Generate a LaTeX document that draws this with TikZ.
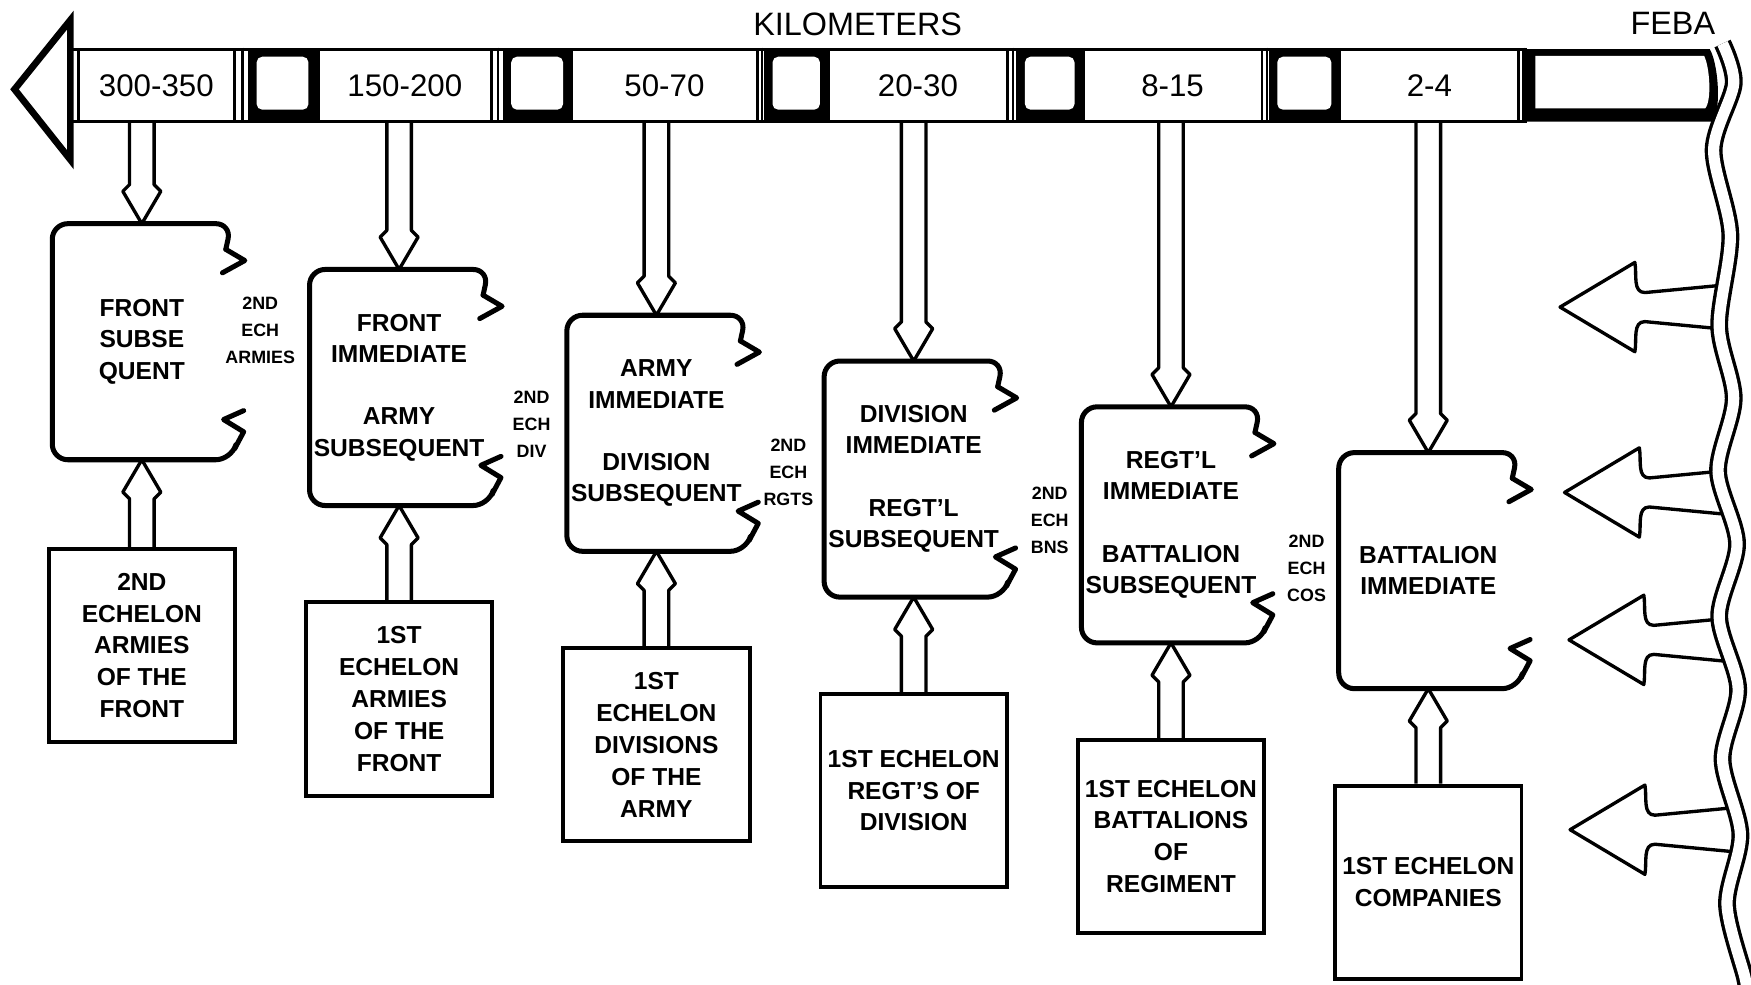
\documentclass[tikz,border=0pt]{standalone}
\usepackage{fontspec}
\setmainfont{Liberation Sans}
\usetikzlibrary{positioning,calc}

\tikzset{
  title/.style={inner sep=0pt, font=\fontsize{29}{31}\selectfont},
  barline/.style={line width=2.5pt},
  stripline/.style={line width=2pt},
  kmcell/.style={draw, fill=white, line width=2.5pt, minimum height=65pt, inner sep=0pt,
    font=\fontsize{28}{30}\selectfont},
  gapcell/.style={fill=black, minimum height=65pt, inner sep=0pt},
  topbox/.style={minimum width=160pt, minimum height=211pt, inner sep=0pt, align=center,
    font=\bfseries\fontsize{22}{28}\selectfont},
  basebox/.style={draw, line width=3.5pt, minimum width=167pt, minimum height=173pt,
    inner sep=0pt, align=center, font=\bfseries\fontsize{22}{28.5}\selectfont},
  echlabel/.style={inner sep=0pt, align=center, font=\bfseries\fontsize{16}{24}\selectfont},
  boxline/.style={line width=4.5pt, line join=round, line cap=round},
  hollowline/.style={line width=3pt, line join=round},
  febaline/.style={line width=3pt, double=white, double distance=10pt},
}

% double-walled arrow, from #1 to the tip #2
\newcommand{\hollowarrow}[2]{%
  \draw[hollowline] let \p1=#1, \p2=#2, \n1={ifthenelse(\y1>\y2,1,-1)} in
    (\x2-11pt,\y1) -- (\x2-11pt,{\y2+\n1*35pt}) -- (\x2-17pt,{\y2+\n1*29pt}) -- (\x2,\y2)
    -- (\x2+17pt,{\y2+\n1*29pt}) -- (\x2+11pt,{\y2+\n1*35pt}) -- (\x2+11pt,\y1);}

% rounded box, open between two torn edges on the right
\newcommand{\echbox}[1]{%
  \draw[boxline, rounded corners=14pt] ([shift={(-5,23)}]#1.north east) -- (#1.north east)
    -- (#1.north west) -- (#1.south west) -- (#1.south east) -- ([shift={(3,-10)}]#1.south east);
  \draw[boxline] ([shift={(-8,44)}]#1.north east) -- ([shift={(12,33)}]#1.north east)
    -- ([shift={(-5,23)}]#1.north east);
  \draw[boxline] ([shift={(3,-10)}]#1.south east) -- ([shift={(11,-25)}]#1.south east)
    -- ([shift={(-7,-36)}]#1.south east) -- ([shift={(11,-44)}]#1.south east);}

% big arrow out of the FEBA, tip at #1
\newcommand{\febarrow}[1]{%
  \draw[hollowline] let \p1=#1 in
    (\x1+160pt,\y1+21pt) -- (\x1+76pt,\y1+13pt) to[out=180,in=-80] (\x1+67pt,\y1+40pt)
    -- (\x1,\y1) -- (\x1+67pt,\y1-40pt) to[out=80,in=180] (\x1+76pt,\y1-13pt)
    -- (\x1+160pt,\y1-21pt);}

\begin{document}
\begin{tikzpicture}[x=1pt,y=-1pt]
  \useasboundingbox (0,0) rectangle (1568,882);

  % distance scale
  \node[title] (kmlabel)   at (768,22)  {KILOMETERS};
  \node[title] (febalabel) at (1498,21) {FEBA};
  \draw[barline] (63,44) rectangle (1366,109);
  \draw[line width=6pt, line join=miter, fill=white] (63,18) -- (13,80) -- (63,143) -- cycle;

  \node[kmcell, minimum width=140pt] (k1) at (140,76.5)  {300-350};
  \node[kmcell, minimum width=155pt] (k2) at (362.5,76.5) {150-200};
  \node[kmcell, minimum width=166pt] (k3) at (595,76.5)  {50-70};
  \node[kmcell, minimum width=160pt] (k4) at (822,76.5)  {20-30};
  \node[kmcell, minimum width=160pt] (k5) at (1050,76.5) {8-15};
  \node[kmcell, minimum width=160pt] (k6) at (1280,76.5) {2-4};

  \node[gapcell, minimum width=62pt] (s1) at (253,76.5)  {};
  \node[gapcell, minimum width=62pt] (s2) at (481,76.5)  {};
  \node[gapcell, minimum width=58pt] (s3) at (713,76.5)  {};
  \node[gapcell, minimum width=60pt] (s4) at (940,76.5)  {};
  \node[gapcell, minimum width=64pt] (s5) at (1168,76.5) {};
  \fill[white, rounded corners=5pt] ([shift={(8,7)}]s1.north west) rectangle ([shift={(-8,-11)}]s1.south east);
  \fill[white, rounded corners=5pt] ([shift={(8,7)}]s2.north west) rectangle ([shift={(-8,-11)}]s2.south east);
  \fill[white, rounded corners=5pt] ([shift={(8,7)}]s3.north west) rectangle ([shift={(-8,-11)}]s3.south east);
  \fill[white, rounded corners=5pt] ([shift={(8,7)}]s4.north west) rectangle ([shift={(-8,-11)}]s4.south east);
  \fill[white, rounded corners=5pt] ([shift={(8,7)}]s5.north west) rectangle ([shift={(-8,-11)}]s5.south east);

  \draw[stripline] ([xshift=6pt]k1.north east) -- ([xshift=6pt]k1.south east);
  \draw[stripline] ([xshift=5pt]k2.north east) -- ([xshift=5pt]k2.south east);
  \draw[stripline] ([xshift=3pt]k3.north east) -- ([xshift=3pt]k3.south east);
  \draw[stripline] ([xshift=4pt]k4.north east) -- ([xshift=4pt]k4.south east);
  \draw[stripline] ([xshift=3pt]k5.north east) -- ([xshift=3pt]k5.south east);
  \draw[stripline] ([xshift=3pt]k6.north east) -- ([xshift=3pt]k6.south east);

  % immediate / subsequent zones
  \node[topbox] (t1) at (127,306) {FRONT\\SUBSE\\QUENT};
  \node[topbox, right=70pt of t1, yshift=-41pt] (t2) {FRONT\\IMMEDIATE\\[28pt]ARMY\\SUBSEQUENT};
  \node[topbox, right=70pt of t2, yshift=-41pt] (t3) {ARMY\\IMMEDIATE\\[28pt]DIVISION\\SUBSEQUENT};
  \node[topbox, right=70pt of t3, yshift=-41pt] (t4) {DIVISION\\IMMEDIATE\\[28pt]REGT'L\\SUBSEQUENT};
  \node[topbox, right=70pt of t4, yshift=-41pt] (t5) {REGT'L\\IMMEDIATE\\[28pt]BATTALION\\SUBSEQUENT};
  \node[topbox, right=70pt of t5, yshift=-41pt] (t6) {BATTALION\\IMMEDIATE};
  \echbox{t1} \echbox{t2} \echbox{t3} \echbox{t4} \echbox{t5} \echbox{t6}

  \node[echlabel] (e1) at (233,296)  {2ND\\ECH\\ARMIES};
  \node[echlabel] (e2) at (476,380)  {2ND\\ECH\\DIV};
  \node[echlabel] (e3) at (706,423)  {2ND\\ECH\\RGTS};
  \node[echlabel] (e4) at (940,466)  {2ND\\ECH\\BNS};
  \node[echlabel] (e5) at (1170,509) {2ND\\ECH\\COS};

  % echelons
  \node[basebox, below=78pt of t1] (b1) {2ND\\ECHELON\\ARMIES\\OF THE\\FRONT};
  \node[basebox, below=85pt of t2] (b2) {1ST\\ECHELON\\ARMIES\\OF THE\\FRONT};
  \node[basebox, below=85pt of t3] (b3) {1ST\\ECHELON\\DIVISIONS\\OF THE\\ARMY};
  \node[basebox, below=85pt of t4] (b4) {1ST ECHELON\\REGT'S OF\\DIVISION};
  \node[basebox, below=85pt of t5] (b5) {1ST ECHELON\\BATTALIONS\\OF\\REGIMENT};
  \node[basebox, below=85pt of t6] (b6) {1ST ECHELON\\COMPANIES};

  \hollowarrow{(t1.north |- k1.south)}{(t1.north)}
  \hollowarrow{(t2.north |- k2.south)}{(t2.north)}
  \hollowarrow{(t3.north |- k3.south)}{(t3.north)}
  \hollowarrow{(t4.north |- k4.south)}{(t4.north)}
  \hollowarrow{(t5.north |- k5.south)}{(t5.north)}
  \hollowarrow{(t6.north |- k6.south)}{(t6.north)}

  \hollowarrow{(b1.north)}{(b1.north |- t1.south)}
  \hollowarrow{(b2.north)}{(b2.north |- t2.south)}
  \hollowarrow{(b3.north)}{(b3.north |- t3.south)}
  \hollowarrow{(b4.north)}{(b4.north |- t4.south)}
  \hollowarrow{(b5.north)}{(b5.north |- t5.south)}
  \hollowarrow{(b6.north)}{(b6.north |- t6.south)}

  % attacks from the FEBA
  \coordinate (a1) at (1397,275);
  \coordinate (a2) at (1401,441);
  \coordinate (a3) at (1405,573);
  \coordinate (a4) at (1406,743);
  \febarrow{(a1)} \febarrow{(a2)} \febarrow{(a3)} \febarrow{(a4)}

  \fill[white] plot[smooth] coordinates {(1542.5,39) (1552.5,75) (1534.5,134) (1549.5,210)
    (1539.5,292) (1552.5,357) (1538.5,422) (1555.5,487) (1539.5,552) (1556.5,617)
    (1542.5,680) (1558.5,747) (1546.5,810) (1562.5,875) (1564,886)} -- (1568,886) -- (1568,39) -- cycle;
  \draw[febaline] plot[smooth] coordinates {(1542.5,39) (1552.5,75) (1534.5,134) (1549.5,210)
    (1539.5,292) (1552.5,357) (1538.5,422) (1555.5,487) (1539.5,552) (1556.5,617)
    (1542.5,680) (1558.5,747) (1546.5,810) (1562.5,875) (1564,886)};

  % last block of the scale, bent along the FEBA
  \fill (1366,44) -- (1531,44) .. controls (1538,55) and (1542,95) .. (1534,109) -- (1366,109) -- cycle;
  \fill[white] (1375,50) -- (1526,50) .. controls (1531,60) and (1533,90) .. (1527,97) -- (1375,97) -- cycle;
\end{tikzpicture}
\end{document}
